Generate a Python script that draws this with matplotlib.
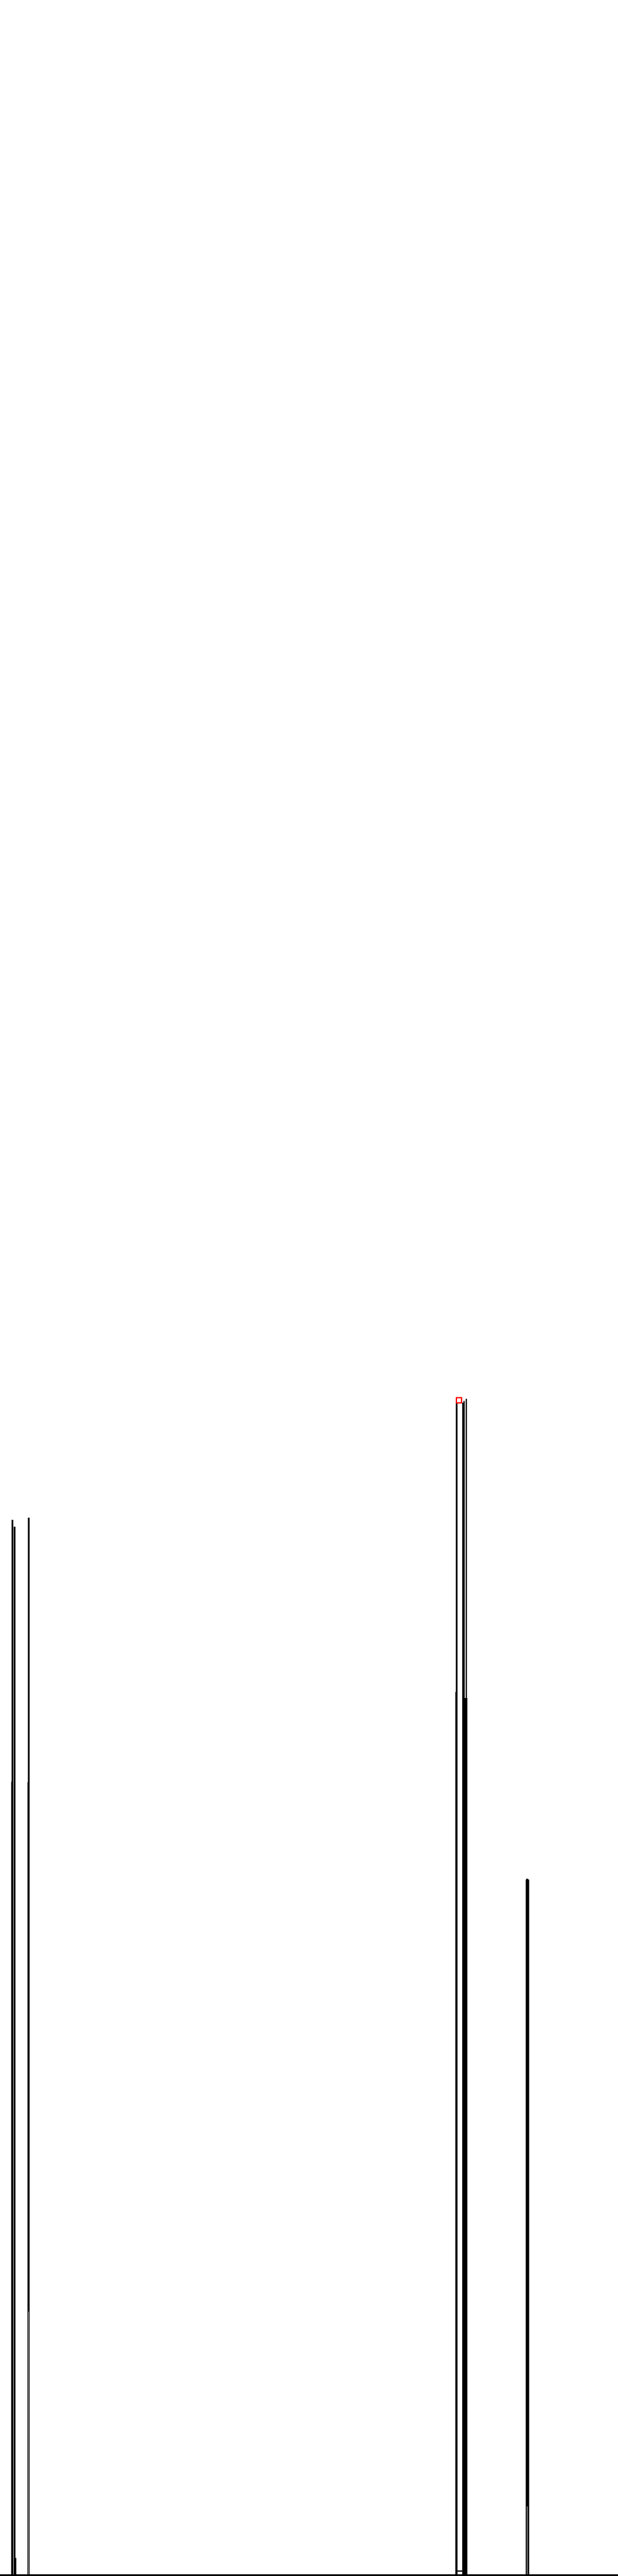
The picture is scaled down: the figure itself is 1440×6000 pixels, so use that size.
import matplotlib
matplotlib.use("Agg")
import matplotlib.pyplot as plt

# bar segments (x: 0-1440, y: 0-5998 chart units)
seg_left = [26, 27, 32, 35.5, 64, 65, 68,
            1061, 1062, 1077, 1080, 1085, 1077, 1082, 1086, 1066,
            1226, 1225]
seg_width = [1, 4, 4, 2.5, 1, 3.5, 1,
             1, 4, 3, 3, 3, 12, 3, 3, 12,
             5, 8]
seg_bottom = [0, 0, 0, 0, 0, 0, 0,
              0, 0, 0, 0, 0, 698, 0, 0, 8,
              0, 0]
seg_height = [1848, 2458, 2442, 40, 1847, 2463, 1837,
              2057, 2743, 2731, 2735, 2740, 1345, 698, 698, 3,
              1622, 1620]

# thin light gaps near the foot of two columns
gap_left = [66, 1228]
gap_height = [614, 160]

# highlighted point
mark_x = [1068.5]
mark_y = [2737]

fig = plt.figure(figsize=(14.4, 60), dpi=100)
ax = fig.add_axes([0, 2/6000, 1, 1 - 2/6000])

ax.bar(seg_left, seg_height, width=seg_width, bottom=seg_bottom,
       align='edge', color='black', edgecolor='none', antialiased=False)
ax.bar(gap_left, gap_height, width=1, align='edge', color='white',
       edgecolor='none', antialiased=False, zorder=2)
ax.scatter(mark_x, mark_y, marker='s', s=70, facecolor='white',
           edgecolor='red', linewidths=2.2, zorder=3)

ax.set_xlim(0, 1440)
ax.set_ylim(0, 5998)
for side in ['top', 'left', 'right']:
    ax.spines[side].set_visible(False)
ax.spines['bottom'].set_linewidth(2.9)
ax.spines['bottom'].set_color('black')
ax.spines['bottom'].set_zorder(4)
ax.set_xticks([])
ax.set_yticks([])

fig.savefig("out.png", dpi=100, facecolor='white')
